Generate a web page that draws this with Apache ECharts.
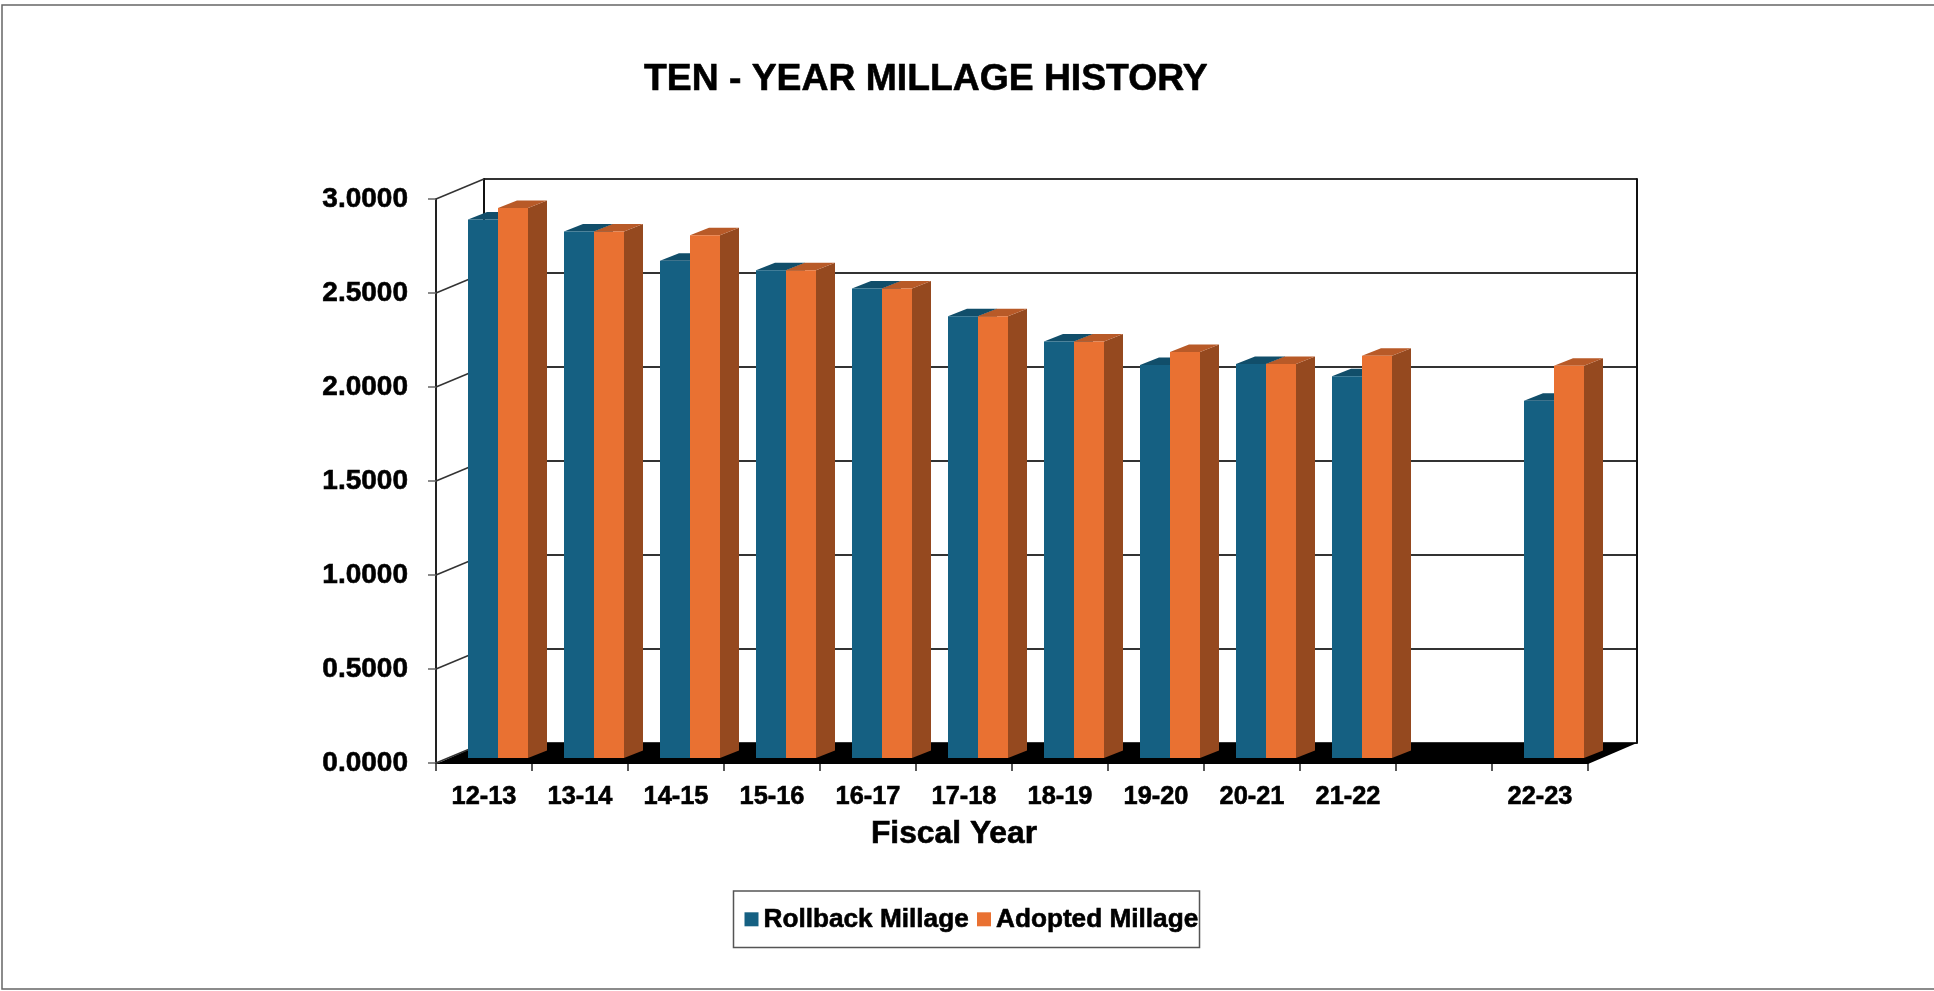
<!DOCTYPE html>
<html>
<head>
<meta charset="utf-8">
<title>Ten-Year Millage History</title>
<script src="https://cdn.jsdelivr.net/npm/echarts@6/dist/echarts.min.js"></script>
<style>
  html, body { margin: 0; padding: 0; background: #fff; overflow: hidden; }
  #main { width: 1934px; height: 991px; }
</style>
</head>
<body>
<div id="main"></div>
<script>
// 数据
const fiscalYears = ['12-13', '13-14', '14-15', '15-16', '16-17', '17-18', '18-19', '19-20', '20-21', '21-22', '', '22-23']
const rollbackMillage = [2.865, 2.8, 2.645, 2.595, 2.497, 2.35, 2.215, 2.09, 2.096, 2.03, null, 1.9]
const adoptedMillage = [2.925, 2.8, 2.78, 2.595, 2.497, 2.35, 2.215, 2.16, 2.096, 2.14, null, 2.086]
const yTicks = [0, 0.5, 1, 1.5, 2, 2.5, 3]

const FONT = '"Liberation Sans", Arial, sans-serif'
// 参考图的字更粗一点，加一圈细描边
const HEAVY = { fontFamily: FONT, fontWeight: 'bold', color: '#000', textBorderColor: '#000', textBorderWidth: 0.6 }

// 前面板和后墙之间的透视偏移
const WALL_DX = 48
const WALL_DY = -20
// 柱子相对前面板的偏移和柱子本身的厚度
const BAR_DX = 14
const BAR_DY = -5
const DEPTH_DX = 19
const DEPTH_DY = -7.5
const BAR_RATIO = 0.3125

// 画一根立体柱子，side: -1 左边一根，0 右边一根
const barRenderer = (side, front, top, right) => (params, api) => {
  const value = api.value(1)
  if (isNaN(value)) return
  const band = api.size([1, 0])[0]
  const w = band * BAR_RATIO
  const p = api.coord([api.value(0), value])
  const base = api.coord([api.value(0), 0])
  const x0 = p[0] + BAR_DX + side * w
  const x1 = x0 + w
  const yTop = p[1] + BAR_DY
  const yBase = base[1] + BAR_DY
  return {
    type: 'group',
    children: [
      {
        type: 'polygon',
        shape: { points: [[x1, yTop], [x1 + DEPTH_DX, yTop + DEPTH_DY], [x1 + DEPTH_DX, yBase + DEPTH_DY], [x1, yBase]] },
        style: { fill: right }
      },
      {
        type: 'polygon',
        shape: { points: [[x0, yTop], [x0 + DEPTH_DX, yTop + DEPTH_DY], [x1 + DEPTH_DX, yTop + DEPTH_DY], [x1, yTop]] },
        style: { fill: top }
      },
      {
        type: 'rect',
        shape: { x: x0, y: yTop, width: w, height: yBase - yTop },
        style: { fill: front }
      }
    ]
  }
}

const option = {
  animation: false,
  backgroundColor: '#fff',
  title: {
    text: 'TEN - YEAR MILLAGE HISTORY',
    left: 639,
    top: 56,
    textStyle: { ...HEAVY, fontSize: 37.3 }
  },
  legend: {
    left: 733.5,
    top: 891,
    padding: [15, 1, 15, 11],
    itemGap: 8,
    itemWidth: 14,
    itemHeight: 14,
    borderColor: '#555',
    borderWidth: 1.5,
    icon: 'rect',
    data: ['Rollback Millage', 'Adopted Millage'],
    textStyle: { ...HEAVY, fontSize: 26.2 }
  },
  grid: [
    // 前面板：坐标轴和柱子用
    { left: 436, top: 199, width: 1152, height: 564, containLabel: false },
    // 后墙：网格线用
    { left: 436 + WALL_DX, top: 199 + WALL_DY, width: 1152 + 1, height: 564, containLabel: false }
  ],
  xAxis: [
    {
      type: 'category',
      gridIndex: 0,
      data: fiscalYears,
      name: 'Fiscal Year',
      nameLocation: 'middle',
      nameGap: 55,
      nameTextStyle: { ...HEAVY, fontSize: 31.8, padding: [0, 116, 0, 0] },
      axisLine: { onZero: false, lineStyle: { color: '#444', width: 1.5 } },
      axisTick: { show: true, length: 8, lineStyle: { color: '#222', width: 1.5 } },
      axisLabel: { ...HEAVY, interval: 0, margin: 21, fontSize: 25.4 }
    },
    {
      type: 'category',
      gridIndex: 1,
      data: fiscalYears,
      axisLine: { show: false },
      axisTick: { show: false },
      axisLabel: { show: false }
    }
  ],
  yAxis: [
    {
      type: 'value',
      gridIndex: 0,
      min: 0,
      max: 3,
      interval: 0.5,
      splitLine: { show: false },
      axisLine: { show: true, lineStyle: { color: '#222', width: 2 } },
      axisTick: { show: true, length: 8, lineStyle: { color: '#666', width: 1.5 } },
      axisLabel: {
        ...HEAVY,
        margin: 28,
        fontSize: 28,
        formatter: (v) => v.toFixed(4)
      }
    },
    {
      type: 'value',
      gridIndex: 1,
      min: 0,
      max: 3,
      interval: 0.5,
      position: 'left',
      axisLabel: { show: false },
      axisTick: { show: false },
      axisLine: { show: true, lineStyle: { color: '#111', width: 2 } },
      splitLine: { show: true, lineStyle: { color: '#333', width: 2 } }
    },
    {
      type: 'value',
      gridIndex: 1,
      min: 0,
      max: 3,
      interval: 0.5,
      position: 'right',
      axisLabel: { show: false },
      axisTick: { show: false },
      axisLine: { show: true, lineStyle: { color: '#111', width: 2 } },
      splitLine: { show: false }
    }
  ],
  series: [
    // 地板
    {
      name: 'floor',
      type: 'custom',
      xAxisIndex: 0,
      yAxisIndex: 0,
      z: 2,
      silent: true,
      data: [[0, 0]],
      renderItem: (params) => {
        const c = params.coordSys
        const y = c.y + c.height
        return {
          type: 'polygon',
          shape: {
            points: [
              [c.x, y + 1],
              [c.x + WALL_DX, y + WALL_DY],
              [c.x + c.width + WALL_DX + 1, y + WALL_DY],
              [c.x + c.width, y + 1]
            ]
          },
          style: { fill: '#000' }
        }
      }
    },
    // 侧墙斜线
    {
      name: 'wall',
      type: 'custom',
      xAxisIndex: 0,
      yAxisIndex: 0,
      z: 2,
      silent: true,
      data: yTicks.map((t) => [0, t]),
      encode: { x: 0, y: 1 },
      renderItem: (params, api) => {
        const c = params.coordSys
        const y = api.coord([0, api.value(1)])[1]
        return {
          type: 'line',
          shape: { x1: c.x, y1: y, x2: c.x + WALL_DX, y2: y + WALL_DY },
          style: { stroke: '#333', lineWidth: 1.5 }
        }
      }
    },
    {
      name: 'Rollback Millage',
      type: 'custom',
      xAxisIndex: 0,
      yAxisIndex: 0,
      z: 3,
      itemStyle: { color: '#156082' },
      encode: { x: 0, y: 1 },
      data: rollbackMillage.map((v, i) => [i, v]),
      renderItem: barRenderer(-1, '#156082', '#114E6A', '#114E6A')
    },
    {
      name: 'Adopted Millage',
      type: 'custom',
      xAxisIndex: 0,
      yAxisIndex: 0,
      z: 4,
      itemStyle: { color: '#E97132' },
      encode: { x: 0, y: 1 },
      data: adoptedMillage.map((v, i) => [i, v]),
      renderItem: barRenderer(0, '#E97132', '#B85A28', '#95491F')
    }
  ],
  graphic: [
    {
      type: 'rect',
      silent: true,
      shape: { x: 2, y: 5, width: 2000, height: 984 },
      style: { fill: 'none', stroke: '#666', lineWidth: 1.5 }
    }
  ]
}

const chart = echarts.init(document.getElementById('main'))
chart.setOption(option)
window.addEventListener('resize', function () {
  chart.resize()
})
</script>
</body>
</html>
